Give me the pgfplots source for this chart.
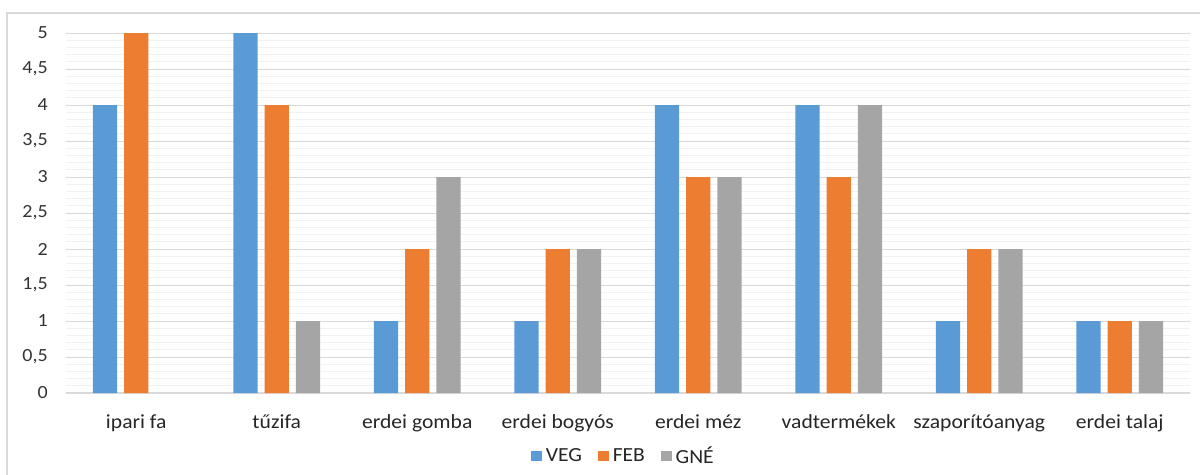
\documentclass[border=0pt]{standalone}
\usepackage{fontspec}
\setmainfont[FakeStretch=1.08]{Carlito}
\usepackage{pgfplots}
\pgfplotsset{compat=1.18}
\definecolor{cVEG}{HTML}{5B9BD5}
\definecolor{cFEB}{HTML}{ED7D31}
\definecolor{cGNE}{HTML}{A5A5A5}
\definecolor{gridc}{HTML}{D9D9D9}
\definecolor{minorc}{HTML}{F2F2F2}
\pgfplotsset{sq/.style={legend image code/.code={%
  \path[draw=none, fill=none] (-12pt,-4pt) rectangle (11pt,4pt);
  \fill[##1, draw=none] (0pt,-4pt) rectangle (8pt,4pt);}}}

\begin{document}
\begin{tikzpicture}
\useasboundingbox (-49.5pt,-61.5pt) rectangle (850.5pt,294.75pt);
\draw[gridc, line width=1.5pt] (-44pt,-70pt) -- (-44pt,285pt) -- (870pt,285pt);
\begin{axis}[
  at={(0,0)}, anchor=south west, scale only axis,
  width=843pt, height=270pt,
  ybar=5.25pt, bar width=0.173,
  xmin=-0.5, xmax=7.5, ymin=0, ymax=5,
  xtick={0,...,7},
  xticklabels={ipari fa, tűzifa, erdei gomba, erdei bogyós, erdei méz, vadtermékek, szaporítóanyag, erdei talaj},
  ytick={0,0.5,...,5}, minor y tick num=4,
  ymajorgrids, yminorgrids,
  major grid style={gridc, line width=0.75pt},
  minor grid style={minorc, line width=0.75pt},
  axis x line*=bottom, axis y line*=left,
  x axis line style={gridc, line width=1pt, -},
  y axis line style={draw=none},
  tick style={draw=none},
  /pgf/number format/use comma,
  /pgf/number format/assume math mode=true,
  yticklabel style={font=\fontsize{13.9}{15}\selectfont, color=black!80, inner sep=0pt, anchor=east, xshift=-13.5pt},
  xticklabel style={font=\fontsize{15}{17}\selectfont, color=black!85, anchor=base, yshift=-22.5pt},
  legend style={at={(0.488,-0.175)}, anchor=center, draw=none, legend columns=-1,
    font=\fontsize{15}{17}\selectfont, text=black!85,
    nodes={inner sep=0pt},
    /tikz/every odd column/.append style={column sep=0pt},
    /tikz/every even column/.append style={column sep=0pt}},
]
\addplot[fill=cVEG, draw=none, sq] coordinates {(0,4)(1,5)(2,1)(3,1)(4,4)(5,4)(6,1)(7,1)};
\addplot[fill=cFEB, draw=none, sq] coordinates {(0,5)(1,4)(2,2)(3,2)(4,3)(5,3)(6,2)(7,1)};
\addplot[fill=cGNE, draw=none, sq] coordinates {(1,1)(2,3)(3,2)(4,3)(5,4)(6,2)(7,1)};
\legend{VEG, FEB, GNÉ}
\end{axis}
\end{tikzpicture}
\end{document}
